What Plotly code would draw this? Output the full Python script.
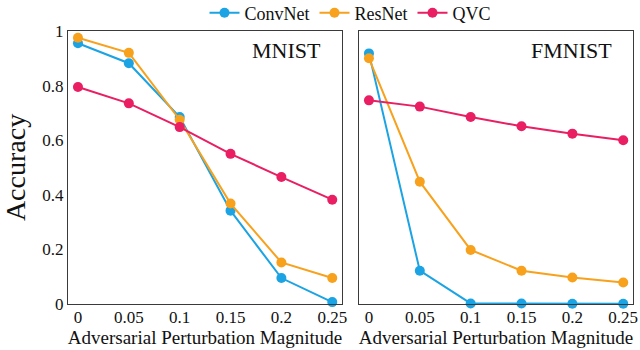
import plotly.graph_objects as go
from plotly.subplots import make_subplots

# Perturbation magnitudes (epsilon)
eps = [0, 0.05, 0.1, 0.15, 0.2, 0.25]
eps_labels = ["0", "0.05", "0.1", "0.15", "0.2", "0.25"]
acc_ticks = [0, 0.2, 0.4, 0.6, 0.8, 1]
acc_labels = ["0", "0.2", "0.4", "0.6", "0.8", "1"]

# MNIST accuracy
mnist_convnet = [0.955, 0.882, 0.685, 0.342, 0.095, 0.007]
mnist_resnet = [0.975, 0.920, 0.675, 0.368, 0.152, 0.095]
mnist_qvc = [0.795, 0.735, 0.648, 0.550, 0.465, 0.382]

# FMNIST accuracy
fmnist_convnet = [0.918, 0.122, 0.002, 0.002, 0.001, 0.001]
fmnist_resnet = [0.900, 0.448, 0.198, 0.122, 0.097, 0.079]
fmnist_qvc = [0.746, 0.723, 0.685, 0.651, 0.624, 0.600]

colors = {"ConvNet": "#1ba3e3", "ResNet": "#f7a11d", "QVC": "#e91e63"}
FONT = "Liberation Serif"
INK = "#111111"

fig = make_subplots(rows=1, cols=2)

panels = [
    (1, {"ConvNet": mnist_convnet, "ResNet": mnist_resnet, "QVC": mnist_qvc}),
    (2, {"ConvNet": fmnist_convnet, "ResNet": fmnist_resnet, "QVC": fmnist_qvc}),
]
for col, series in panels:
    for name, vals in series.items():
        fig.add_trace(
            go.Scatter(
                x=eps, y=vals, name=name, mode="lines+markers",
                line=dict(color=colors[name], width=2),
                marker=dict(color=colors[name], size=10),
                cliponaxis=False, showlegend=(col == 1),
            ),
            row=1, col=col,
        )

axis_style = dict(
    showgrid=False, zeroline=False, showline=True, mirror=True,
    linecolor="#3a3a3a", linewidth=1.3, ticks="",
    tickfont=dict(family=FONT, size=17, color=INK),
)
for col in (1, 2):
    fig.update_xaxes(
        range=[-0.0098, 0.2596], tickvals=eps, ticktext=eps_labels,
        ticklabelstandoff=-3,
        title=dict(text="Adversarial Perturbation Magnitude",
                   font=dict(family=FONT, size=19, color=INK), standoff=4),
        row=1, col=col, **axis_style,
    )
    fig.update_yaxes(
        range=[0, 1], tickvals=acc_ticks, ticktext=acc_labels,
        showticklabels=(col == 1), ticklabelstandoff=0,
        row=1, col=col, **axis_style,
    )
fig.update_yaxes(
    title=dict(text="Accuracy", font=dict(family=FONT, size=28, color=INK),
               standoff=8),
    row=1, col=1,
)
fig.update_xaxes(domain=[0, 0.485], row=1, col=1)
fig.update_xaxes(domain=[0.515, 1], row=1, col=2)

fig.add_annotation(text="MNIST", x=0.93, y=0.93, xref="x domain", yref="y domain",
                   xanchor="right", yanchor="middle", showarrow=False,
                   font=dict(family=FONT, size=22, color=INK))
fig.add_annotation(text="FMNIST", x=0.93, y=0.93, xref="x2 domain", yref="y2 domain",
                   xanchor="right", yanchor="middle", showarrow=False,
                   font=dict(family=FONT, size=22, color=INK))

fig.update_layout(
    width=640, height=350,
    margin=dict(l=68, r=7, t=31, b=46, autoexpand=False),
    paper_bgcolor="white", plot_bgcolor="white",
    legend=dict(orientation="h", x=0.5, xanchor="center",
                yref="container", y=1 - 13 / 350, yanchor="middle",
                bgcolor="rgba(0,0,0,0)",
                font=dict(family=FONT, size=18, color=INK),
                itemwidth=30, tracegroupgap=0),
)

fig.write_html("out.html")
